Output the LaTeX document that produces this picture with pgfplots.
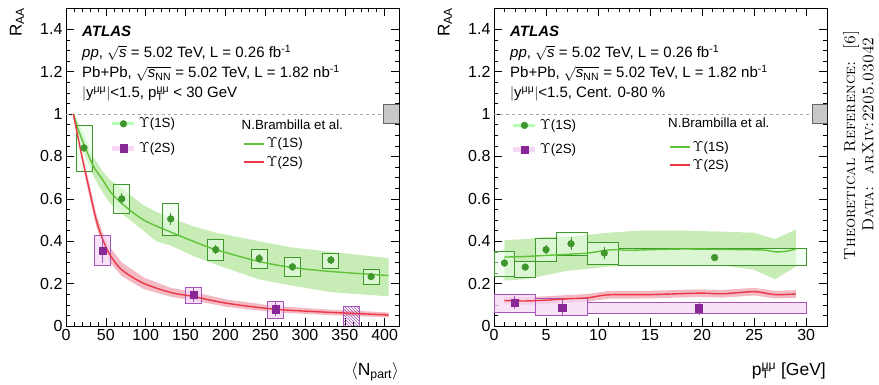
\documentclass[border=0pt]{standalone}
\usepackage{fontspec}
\usepackage{pgfplots}
\pgfplotsset{compat=1.18}
\usetikzlibrary{patterns}
\newfontfamily\sans{Liberation Sans}

\definecolor{dgreen}{RGB}{62,150,45}
\definecolor{lgreen}{RGB}{95,195,55}
\definecolor{bandgreen}{RGB}{200,236,182}
\definecolor{dpurple}{RGB}{135,40,150}
\definecolor{boxpurple}{RGB}{165,85,185}
\definecolor{lpurple}{RGB}{246,216,246}
\definecolor{tred}{RGB}{235,55,70}
\definecolor{bandred}{RGB}{244,186,196}
\definecolor{normgray}{RGB}{200,200,200}

\pgfplotsset{
  /pgf/number format/assume math mode=true,
  atlas/.style={
    scale only axis, width=333pt, height=318pt,
    anchor=south west,
    ymin=0, ymax=1.5,
    ytick={0,0.2,0.4,0.6,0.8,1,1.2,1.4},
    yticklabels={0,0.2,0.4,0.6,0.8,1,1.2,1.4},
    minor y tick num=3,
    major tick length=8pt, minor tick length=4pt,
    tick style={black, line width=0.5pt},
    axis line style={line width=0.7pt},
    tick label style={font=\sans\fontsize{16}{19}\selectfont},
    legend cell align=left,
    legend style={draw=none, fill=none, inner sep=0pt, outer sep=0pt,
      font=\sans\fontsize{13.3}{15}\selectfont, row sep=9pt, anchor=north west},
    legend image code/.code={\draw[##1, mark repeat=2, mark phase=2] plot coordinates {(0pt,0pt) (11pt,0pt) (22pt,0pt)};},
  },
  theo/.style={
    scale only axis, width=333pt, height=318pt, anchor=south west, hide axis,
    xmin=0, xmax=1, ymin=0, ymax=1,
    legend cell align=left,
    legend style={draw=none, fill=none, inner sep=0pt, outer sep=0pt,
      font=\sans\fontsize{13.3}{15}\selectfont, row sep=3pt, anchor=north west},
    legend image code/.code={\draw[##1] (0pt,0pt) -- (20pt,0pt);},
  },
  box1/.style={draw=dgreen, line width=0.9pt, fill=green!8, fill opacity=0.55, forget plot},
  box2/.style={draw=boxpurple, line width=0.9pt, fill=lpurple, fill opacity=0.75, forget plot},
  pts1/.style={only marks, mark=*, mark size=3.4pt, color=dgreen, forget plot,
    error bars/.cd, y dir=both, y explicit, error mark=none,
    error bar style={line width=0.7pt, dgreen}},
  pts2/.style={only marks, mark=square*, mark size=3.6pt, color=dpurple, forget plot,
    error bars/.cd, y dir=both, y explicit, error mark=none,
    error bar style={line width=0.7pt, boxpurple}},
}
\newcommand{\bx}[5]{\addplot[#1, line join=miter] coordinates {(#2,#4) (#3,#4) (#3,#5) (#2,#5) (#2,#4) (#3,#4)};}
\newcommand{\ptmm}{p\rlap{\textsubscript{T}}\textsuperscript{μμ}}

\begin{document}
\begin{tikzpicture}
\useasboundingbox (0,0) rectangle (879pt,385pt);

% ================= LEFT PANEL =================
\begin{axis}[atlas, at={(66pt,59pt)}, xmin=0, xmax=418,
  xtick={0,50,100,150,200,250,300,350,400}, minor x tick num=4,
  legend style={at={(0.132,0.66)}}]
% theory bands (upper edge forward, lower edge backward)
\addplot[fill=bandgreen, draw=none, forget plot] coordinates {(9.2,1.01) (15,0.96) (22.6,0.90) (34,0.80) (46,0.73) (55,0.69) (70,0.65) (97,0.57) (113,0.54) (131,0.51) (160,0.47) (188,0.44) (242,0.40) (284,0.37) (332,0.35) (405,0.32)
 (405,0.14) (332,0.16) (284,0.19) (242,0.22) (188,0.29) (160,0.33) (131,0.38) (113,0.40) (97,0.45) (70,0.53) (55,0.58) (46,0.63) (34,0.71) (22.6,0.81) (15,0.90) (9.2,0.99)};
\addplot[fill=bandred, draw=none, forget plot] coordinates {(9.2,1.01) (20,0.825) (30,0.66) (38,0.53) (46,0.44) (55.3,0.37) (70,0.30) (97,0.23) (131.5,0.18) (160,0.16) (202,0.125) (263,0.094) (327.5,0.078) (405,0.064)
 (405,0.04) (327.5,0.052) (263,0.064) (202,0.09) (160,0.12) (131.5,0.138) (97,0.175) (70,0.235) (55.3,0.30) (46,0.38) (38,0.47) (30,0.60) (20,0.775) (9.2,0.99)};
% reference line and normalisation box
\addplot[gray!70, dashed, line width=0.8pt, forget plot] coordinates {(0,1) (418,1)};
\bx{draw=gray!80!black, line width=0.8pt, fill=normgray, forget plot}{398}{418}{0.955}{1.045}
% systematic boxes
\bx{box1}{12.6}{32.6}{0.73}{0.946}
\bx{box1}{60}{80}{0.533}{0.667}
\bx{box1}{121.5}{141.5}{0.426}{0.58}
\bx{box1}{178}{198}{0.307}{0.41}
\bx{box1}{232.5}{252.5}{0.273}{0.363}
\bx{box1}{274.3}{294.3}{0.233}{0.323}
\bx{box1}{322.5}{342.5}{0.273}{0.344}
\bx{box1}{373}{393}{0.197}{0.268}
\bx{box2}{36}{56}{0.284}{0.426}
\bx{box2}{150}{170}{0.107}{0.183}
\bx{box2}{253}{273}{0.036}{0.118}
\bx{draw=boxpurple, line width=0.9pt, pattern=north west lines, pattern color=boxpurple, forget plot}{348}{368}{0}{0.09}
% theory lines
\addplot[lgreen, line width=1.4pt, smooth, forget plot] coordinates {(9.2,1.0) (15,0.93) (22.6,0.856) (34.3,0.754) (46,0.69) (55.3,0.635) (70,0.578) (97,0.501) (131.5,0.443) (160,0.399) (188,0.36) (242.5,0.304) (284,0.276) (332.5,0.257) (405,0.238)};
\addplot[tred, line width=1.4pt, smooth, forget plot] coordinates {(9.2,1.0) (20,0.80) (30,0.63) (38,0.50) (46,0.41) (55.3,0.335) (70,0.265) (97,0.202) (131.5,0.158) (160,0.139) (202,0.107) (263,0.079) (327.5,0.065) (405,0.052)};
% data points
\addplot[pts1] table[x=x, y=y, y error=e] {
x y e
22.6 0.840 0.02
70 0.600 0.025
131.5 0.505 0.03
188 0.360 0.02
242.5 0.318 0.02
284.3 0.279 0.02
332.5 0.311 0.02
383 0.233 0.015
};
\addplot[pts2] table[x=x, y=y, y error=e] {
x y e
46 0.355 0.06
160 0.147 0.035
263 0.079 0.033
};
\addlegendimage{line width=3pt, color=green!30!white, mark=*, mark size=3.4pt, mark options={solid, draw=dgreen, fill=dgreen, line width=0.4pt}}
\addlegendentry{$\Upsilon$(1S)}
\addlegendimage{line width=5pt, color=lpurple, mark=square*, mark size=3.6pt, mark options={solid, draw=dpurple, fill=dpurple, line width=0.4pt}}
\addlegendentry{$\Upsilon$(2S)}
\end{axis}
\begin{axis}[theo, at={(66pt,59pt)}, legend style={at={(0.532,0.597)}}]
\addplot[draw=none, forget plot] coordinates {(0,0) (1,1)};
\addlegendimage{draw=lgreen, line width=1.5pt, solid}
\addlegendentry{$\Upsilon$(1S)}
\addlegendimage{draw=tred, line width=1.5pt, solid}
\addlegendentry{$\Upsilon$(2S)}
\end{axis}

% ================= RIGHT PANEL =================
\begin{axis}[atlas, at={(494pt,59pt)}, xmin=0, xmax=32,
  xtick={0,5,10,15,20,25,30}, minor x tick num=4,
  legend style={at={(0.051,0.655)}}]
\addplot[fill=bandgreen, draw=none, forget plot] coordinates {(1,0.405) (3,0.41) (5,0.42) (7,0.42) (9,0.43) (11,0.44) (14,0.45) (18,0.45) (22,0.445) (25,0.44) (27,0.41) (29,0.455)
 (29,0.28) (27,0.22) (25,0.265) (22,0.285) (18,0.29) (14,0.285) (11,0.28) (9,0.27) (7,0.26) (5,0.24) (3,0.22) (1,0.215)};
\addplot[fill=bandred, draw=none, forget plot] coordinates {(1,0.138) (3,0.136) (5,0.14) (7,0.146) (9,0.151) (11,0.165) (15,0.166) (19.7,0.173) (22,0.17) (25,0.18) (27,0.166) (29,0.169)
 (29,0.133) (27,0.13) (25,0.144) (22,0.134) (19.7,0.137) (15,0.13) (11,0.129) (9,0.115) (7,0.11) (5,0.104) (3,0.10) (1,0.102)};
\addplot[gray!70, dashed, line width=0.8pt, forget plot] coordinates {(0,1) (32,1)};
\bx{draw=gray!80!black, line width=0.8pt, fill=normgray, forget plot}{30.6}{32}{0.955}{1.045}
\bx{box1}{0}{2}{0.236}{0.351}
\bx{box1}{2}{4}{0.23}{0.304}
\bx{box1}{4}{6}{0.304}{0.415}
\bx{box1}{6}{9}{0.333}{0.443}
\bx{box1}{9}{12}{0.289}{0.396}
\bx{box1}{12}{30}{0.284}{0.364}
\bx{box2}{0}{4}{0.063}{0.151}
\bx{box2}{4}{9}{0.052}{0.128}
\bx{box2}{9}{30}{0.057}{0.112}
\addplot[lgreen, line width=1.4pt, smooth, forget plot] coordinates {(1,0.325) (3,0.328) (5,0.333) (7,0.338) (9,0.344) (10.5,0.355) (11.5,0.36) (13,0.357) (15,0.36) (18,0.363) (21,0.362) (24,0.36) (26,0.358) (27,0.35) (28,0.352) (29,0.363)};
\addplot[tred, line width=1.4pt, smooth, forget plot] coordinates {(1,0.12) (3,0.118) (5,0.122) (7,0.128) (9,0.133) (11,0.147) (15,0.148) (19.7,0.155) (22,0.152) (25,0.162) (27,0.148) (29,0.151)};
\addplot[pts1] table[x=x, y=y, y error=e] {
x y e
1.0 0.297 0.02
3.0 0.278 0.015
5.0 0.360 0.02
7.4 0.388 0.03
10.6 0.344 0.03
21.2 0.323 0.01
};
\addplot[pts2] table[x=x, y=y, y error=e] {
x y e
2.0 0.110 0.03
6.55 0.088 0.035
19.7 0.084 0.03
};
\addlegendimage{line width=3pt, color=green!30!white, mark=*, mark size=3.4pt, mark options={solid, draw=dgreen, fill=dgreen, line width=0.4pt}}
\addlegendentry{$\Upsilon$(1S)}
\addlegendimage{line width=5pt, color=lpurple, mark=square*, mark size=3.6pt, mark options={solid, draw=dpurple, fill=dpurple, line width=0.4pt}}
\addlegendentry{$\Upsilon$(2S)}
\end{axis}
\begin{axis}[theo, at={(494pt,59pt)}, legend style={at={(0.526,0.5875)}}]
\addplot[draw=none, forget plot] coordinates {(0,0) (1,1)};
\addlegendimage{draw=lgreen, line width=1.5pt, solid}
\addlegendentry{$\Upsilon$(1S)}
\addlegendimage{draw=tred, line width=1.5pt, solid}
\addlegendentry{$\Upsilon$(2S)}
\end{axis}

% ================= TEXT =================
\begin{scope}[every node/.style={inner sep=0pt}]
\foreach \xo/\lastline in {82/{$|$y\textsuperscript{μμ}$|$<1.5, \ptmm{} < 30 GeV}, 510/{$|$y\textsuperscript{μμ}$|$<1.5, Cent. 0-80 \%}} {
  \node[anchor=base west, font=\sans\fontsize{15}{18}\selectfont\bfseries\itshape] at (\xo pt,348pt) {ATLAS};
  \node[anchor=base west, font=\sans\fontsize{15}{18}\selectfont] at (\xo pt,327pt) {\textit{pp}, $\sqrt{\mbox{\sans\itshape s}}$ = 5.02 TeV, L = 0.26 fb\textsuperscript{-1}};
  \node[anchor=base west, font=\sans\fontsize{15}{18}\selectfont] at (\xo pt,307pt) {Pb+Pb, $\sqrt{\mbox{\sans\itshape s\textsubscript{\upshape NN}}}$ = 5.02 TeV, L = 1.82 nb\textsuperscript{-1}};
  \node[anchor=base west, font=\sans\fontsize{15}{18}\selectfont] at (\xo pt,287pt) {\lastline};
}
\node[anchor=base west, font=\sans\fontsize{13.3}{15}\selectfont] at (241.5pt,255pt) {N.Brambilla et al.};
\node[anchor=base west, font=\sans\fontsize{13.3}{15}\selectfont] at (668pt,257pt) {N.Brambilla et al.};
% axis labels
\node[rotate=90, anchor=east, font=\sans\fontsize{17}{20}\selectfont] at (17pt,377pt) {R\textsubscript{AA}};
\node[rotate=90, anchor=east, font=\sans\fontsize{17}{20}\selectfont] at (445pt,377pt) {R\textsubscript{AA}};
\node[anchor=base east, font=\sans\fontsize{17.5}{20}\selectfont] at (399pt,9pt) {$\langle$N\textsubscript{part}$\rangle$};
\node[anchor=base east, font=\sans\fontsize{17.5}{20}\selectfont] at (826pt,9pt) {\ptmm{} [GeV]};
\end{scope}
% side notes
\node[rotate=90, anchor=east, inner sep=0pt, font=\fontsize{16}{19}\selectfont] at (851pt,355pt) {\textsc{Theoretical Reference:~~[6]}};
\node[rotate=90, anchor=east, inner sep=0pt, font=\fontsize{16}{19}\selectfont] at (868pt,348pt) {\textsc{Data:~~arXiv:2205.03042}};
\end{tikzpicture}
\end{document}
